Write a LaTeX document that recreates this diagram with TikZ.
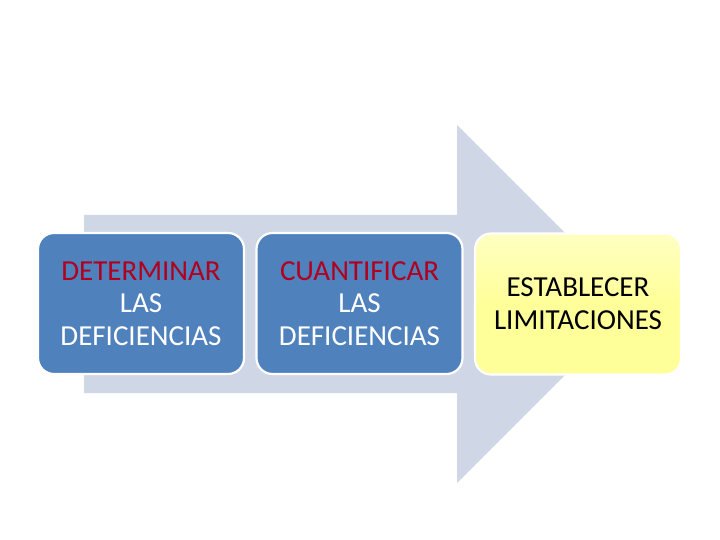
\documentclass[tikz,border=0pt]{standalone}
\usepackage{fontspec}
\setmainfont{Carlito}
\definecolor{arrowc}{HTML}{CFD6E5}
\definecolor{boxblue}{HTML}{4F81BD}
\definecolor{txtred}{HTML}{B00020}
\definecolor{boxyel}{HTML}{FFFF99}
\tikzset{
  stepbox/.style={rounded corners=16pt, draw=white, line width=2.2pt,
    minimum width=206pt, minimum height=141pt, align=center,
    font=\fontsize{29}{32.5}\selectfont, inner sep=0pt},
  bluebox/.style={stepbox, fill=boxblue, text=white},
  yelbox/.style={stepbox, top color=boxyel!60!white, bottom color=boxyel, middle color=boxyel,
    font=\fontsize{29}{33}\selectfont, text=black}
}
\begin{document}
\begin{tikzpicture}[x=1pt,y=-1pt]
\useasboundingbox (0,0) rectangle (720,540);
\fill[arrowc] (84,215) -- (457,215) -- (457,125) -- (636,304) -- (457,483) -- (457,393) -- (84,393) -- cycle;
\node[bluebox] (b1) at (141,303.5) {\textcolor{txtred}{DETERMINAR}\\LAS\\DEFICIENCIAS};
\node[bluebox] (b2) at (359.5,303.5) {\textcolor{txtred}{CUANTIFICAR}\\LAS\\DEFICIENCIAS};
\node[yelbox] (b3) at (578,304) {ESTABLECER\\LIMITACIONES};
\end{tikzpicture}
\end{document}
